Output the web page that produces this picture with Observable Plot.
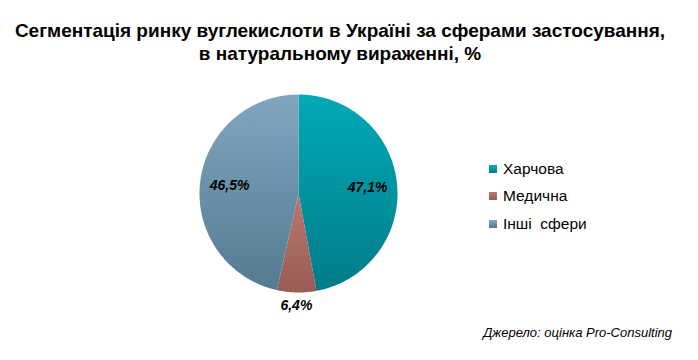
<!DOCTYPE html>
<html>
<head>
<meta charset="utf-8">
<script src="https://cdn.jsdelivr.net/npm/d3@7"></script>
<script src="https://cdn.jsdelivr.net/npm/@observablehq/plot@0.6"></script>
<style>
  html, body { margin: 0; padding: 0; background: #fff; }
  #wrap { position: relative; width: 698px; height: 360px; overflow: hidden; font-family: "Liberation Sans", Arial, sans-serif; }
  #title { position: absolute; left: 0; top: 19px; width: 680px; text-align: center; font-family: "Liberation Sans Narrow", "Arial Narrow", "Liberation Sans", sans-serif; font-weight: bold; font-size: 19px; line-height: 23px; color: #000; z-index: 2; }
  #legend { position: absolute; left: 489px; top: 155px; z-index: 2; }
  .li { height: 27.5px; display: flex; align-items: center; font-size: 15.5px; color: #000; }
  .sw { width: 8px; height: 8px; margin-right: 6px; }
  #caption { position: absolute; right: 26px; top: 325px; font-style: italic; font-size: 13px; color: #000; z-index: 2; }
  #chart { position: absolute; left: 0; top: 0; }
</style>
</head>
<body>
<div id="wrap">
  <div id="title">Сегментація ринку вуглекислоти в Україні за сферами застосування,<br>в натуральному вираженні, %</div>
  <div id="chart"></div>
  <div id="legend"></div>
  <div id="caption">Джерело: оцінка Pro-Consulting</div>
</div>
<script>
const categories = ["Харчова", "Медична", "Інші  сфери"];
const values = [47.1, 6.4, 46.5];
const labels = ["47,1%", "6,4%", "46,5%"];
const topColors = ["#02A9B8", "#BA7872", "#80A6C0"];
const bottomColors = ["#007C87", "#9A5B55", "#557B92"];

const total = d3.sum(values);
// Build slice polygons from data (angles clockwise from 12 o'clock)
const slices = [];
let acc = 0;
values.forEach((v, i) => {
  const a0 = acc / total * 2 * Math.PI;
  acc += v;
  const a1 = acc / total * 2 * Math.PI;
  const pts = [{k: i, x: 0, y: 0}];
  const n = Math.max(4, Math.ceil((a1 - a0) / (Math.PI / 180)));
  for (let j = 0; j <= n; j++) {
    const a = a0 + (a1 - a0) * j / n;
    pts.push({k: i, x: Math.sin(a), y: Math.cos(a)});
  }
  pts.push({k: i, x: 0, y: 0});
  const mid = (a0 + a1) / 2;
  const r = v < 10 ? 1.13 : 0.7;
  slices.push({i, pts, lx: r * Math.sin(mid), ly: r * Math.cos(mid), label: labels[i]});
});

const W = 698, H = 360;
const plot = Plot.plot({
  width: W, height: H,
  marginLeft: 199, marginRight: 301, marginTop: 94, marginBottom: 68,
  x: {domain: [-1, 1], axis: null},
  y: {domain: [-1, 1], axis: null},
  style: {background: "transparent", overflow: "visible"},
  marks: [
    ...slices.map(s => Plot.line(s.pts, {x: "x", y: "y", fill: `url(#grad${s.i})`, stroke: "none", curve: "linear"})),
    Plot.text(slices, {x: "lx", y: "ly", text: "label", fontSize: 14, fontWeight: "bold", fontStyle: "italic", fill: "#000", fontFamily: "Liberation Sans, Arial, sans-serif"})
  ]
});

const defs = d3.select(plot).insert("defs", ":first-child");
values.forEach((v, i) => {
  const g = defs.append("linearGradient").attr("id", `grad${i}`).attr("x1", 0).attr("y1", 0).attr("x2", 0).attr("y2", 1);
  g.append("stop").attr("offset", "0%").attr("stop-color", topColors[i]);
  g.append("stop").attr("offset", "100%").attr("stop-color", bottomColors[i]);
});
document.getElementById("chart").appendChild(plot);

const legend = d3.select("#legend");
categories.forEach((c, i) => {
  const row = legend.append("div").attr("class", "li");
  row.append("div").attr("class", "sw").style("background", `linear-gradient(${topColors[i]}, ${bottomColors[i]})`);
  row.append("span").style("white-space", "pre").text(c);
});
</script>
</body>
</html>
